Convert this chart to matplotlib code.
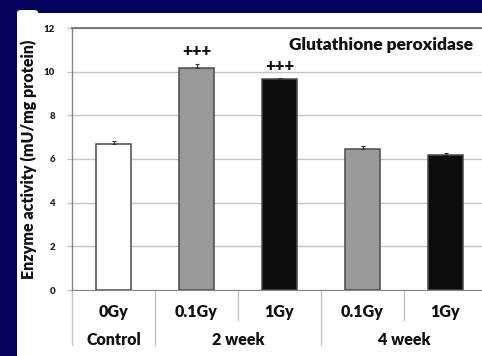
import matplotlib
matplotlib.use("Agg")
import matplotlib.pyplot as plt
from matplotlib.patches import Rectangle, FancyBboxPatch
from matplotlib.transforms import blended_transform_factory

# Glutathione peroxidase activity by dose and time after exposure
doses = ["0Gy", "0.1Gy", "1Gy", "0.1Gy", "1Gy"]
groups = ["Control", "2 week", "4 week"]
group_spans = [(0, 0), (1, 2), (3, 4)]
activity = [6.7, 10.18, 9.65, 6.45, 6.2]
errors = [0.12, 0.18, 0.06, 0.15, 0.08]
signif = ["", "+++", "+++", "", ""]
bar_colors = ["#ffffff", "#9a9a9a", "#0c0c0c", "#9a9a9a", "#0c0c0c"]
yticks = [0, 2, 4, 6, 8, 10, 12]

plt.rcParams["font.family"] = ["Lato", "DejaVu Sans"]
plt.rcParams["font.weight"] = "bold"

W, H = 482, 356
PT = 72 / 100  # points per pixel
fig = plt.figure(figsize=(W / 100, H / 100), dpi=100, facecolor="#03035e")

# white slide panel
fig.patches.append(Rectangle((17 / W, 0), 1, (H - 13) / H, transform=fig.transFigure,
                             facecolor="white", edgecolor="none", zorder=-5))
fig.patches.append(FancyBboxPatch((17 / W, (H - 45) / H), 21 / W, 35 / H,
                                  boxstyle="round,pad=0,rounding_size=0.008",
                                  transform=fig.transFigure, facecolor="white",
                                  edgecolor="none", zorder=-5))

ax_l, ax_r, ax_t, ax_b = 72, 487, 28, 290
ax = fig.add_axes([ax_l / W, (H - ax_b) / H, (ax_r - ax_l) / W, (ax_b - ax_t) / H])
ax.set_zorder(2)
ax.set_facecolor("white")

x = list(range(len(activity)))
ax.bar(x, activity, width=0.41, color=bar_colors, edgecolor="#4a4a4a", linewidth=1.1, zorder=3)
ax.errorbar(x, activity, yerr=[[0] * len(errors), errors], fmt="none", ecolor="#333333",
            elinewidth=0.8, capsize=1.5, capthick=0.8, zorder=4)

for xi, v, e, s in zip(x, activity, errors, signif):
    if s:
        ax.text(xi, v + e + 0.2, s, ha="center", va="bottom", fontsize=12,
                fontweight="heavy", color="#111111")

ax.set_xlim(-0.5, 4.5)
ax.set_ylim(0, 12)
ax.set_yticks(yticks)
ax.set_yticklabels([str(t) for t in yticks], fontsize=7, fontweight="heavy", color="#222222")
ax.yaxis.grid(True, color="#c4c4c4", linewidth=1.0, zorder=0)
ax.set_axisbelow(True)
ax.tick_params(axis="y", direction="out", length=5 * PT, color="#c4c4c4", width=1.0,
               pad=12 * PT)
ax.set_xticks([])

ax.spines["right"].set_visible(False)
ax.spines["top"].set_color("#666666")
ax.spines["left"].set_color("#888888")
ax.spines["bottom"].set_color("#888888")
ax.spines["top"].set_linewidth(1.2)
ax.spines["left"].set_linewidth(1.0)

ax.text(0.967, 0.935, "Glutathione peroxidase", transform=ax.transAxes, ha="right",
        va="center", fontsize=12.5, fontweight="heavy", color="#111111")

ax.set_ylabel("Enzyme activity (mU/mg protein)", fontsize=11.5, fontweight="heavy",
              color="#111111", labelpad=5)

# two-row category axis under the bars
tr = blended_transform_factory(ax.transData, ax.transAxes)
px = 1.0 / (ax_b - ax_t)
row1_y = -22 * px
row2_y = -50 * px
for xi, d in zip(x, doses):
    ax.text(xi, row1_y, d, transform=tr, ha="center", va="center", fontsize=11.5,
            fontweight="heavy", color="#111111", clip_on=False)
for g, (a, b) in zip(groups, group_spans):
    ax.text((a + b) / 2, row2_y, g, transform=tr, ha="center", va="center", fontsize=11.5,
            fontweight="heavy", color="#111111", clip_on=False)

for bnd in [-0.5, 0.5, 1.5, 2.5, 3.5, 4.5]:
    full = bnd in {-0.5, 0.5, 2.5, 4.5}
    depth = 55 if full else 30
    ax.plot([bnd, bnd], [0, -depth * px], transform=tr, color="#c4c4c4",
            linewidth=1.0, clip_on=False, zorder=1)

fig.savefig("out.png", dpi=100, facecolor=fig.get_facecolor())
